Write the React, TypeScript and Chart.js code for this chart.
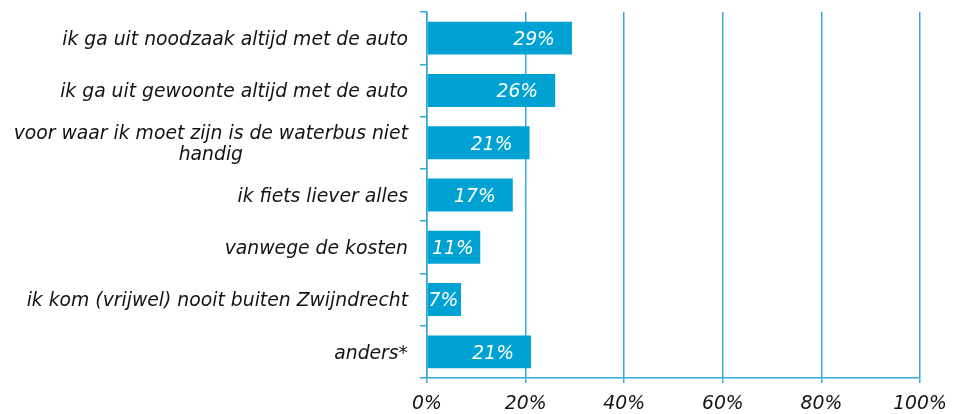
import React, { useEffect, useRef } from "react";
import { Chart, registerables } from "chart.js";

Chart.register(...registerables);

const categories: (string | string[])[] = [
  "ik ga uit noodzaak altijd met de auto",
  "ik ga uit gewoonte altijd met de auto",
  ["voor waar ik moet zijn is de waterbus niet", "handig"],
  "ik fiets liever alles",
  "vanwege de kosten",
  "ik kom (vrijwel) nooit buiten Zwijndrecht",
  "anders*",
];
const values: number[] = [29.4, 26, 20.8, 17.4, 10.8, 6.9, 21.1];
const xTicks: number[] = [0, 20, 40, 60, 80, 100];

const FONT = "DejaVu Sans";
const FONT_SIZE = 18.8;
const BAR = "#00a1d3";
const GRID = "#33a9d9";
const TEXT = "#141414";

const labelPlugin = {
  id: "customLabels",
  afterDatasetsDraw(chart: any) {
    const ctx = chart.ctx;
    const meta = chart.getDatasetMeta(0);
    ctx.save();
    ctx.font = `italic ${FONT_SIZE}px "${FONT}"`;
    ctx.fillStyle = "#ffffff";
    ctx.textBaseline = "middle";
    meta.data.forEach((el: any, i: number) => {
      const txt = Math.round(values[i]) + "%";
      const w = ctx.measureText(txt).width;
      const right = el.x - 17;
      if (right - w < el.base + 1) {
        ctx.textAlign = "center";
        ctx.fillText(txt, (el.base + el.x) / 2 - 1, el.y + 2);
      } else {
        ctx.textAlign = "right";
        ctx.fillText(txt, right, el.y + 2);
      }
    });
    ctx.restore();
  },
  afterDraw(chart: any) {
    const ctx = chart.ctx;
    const yScale = chart.scales.y;
    const rightX = chart.chartArea.left - 19;
    const lh = 21;
    ctx.save();
    ctx.font = `italic ${FONT_SIZE}px "${FONT}"`;
    ctx.fillStyle = TEXT;
    ctx.textBaseline = "middle";
    ctx.textAlign = "center";
    categories.forEach((c, i) => {
      const lines = Array.isArray(c) ? c : [c];
      const widest = Math.max(...lines.map((l) => ctx.measureText(l).width));
      const cx = rightX - widest / 2;
      const cy = yScale.getPixelForValue(i) + 2;
      const start = cy - ((lines.length - 1) * lh) / 2;
      lines.forEach((l, j) => ctx.fillText(l, cx, start + j * lh));
    });
    ctx.restore();
  },
};

export default function App() {
  const ref = useRef<HTMLCanvasElement | null>(null);
  useEffect(() => {
    document.body.style.margin = "0";
    if (!ref.current) return;
    const chart = new Chart(ref.current, {
      type: "bar",
      data: {
        labels: categories.map((c) => (Array.isArray(c) ? c.join(" ") : c)),
        datasets: [
          {
            data: values,
            backgroundColor: BAR,
            borderWidth: 0,
            barPercentage: 0.63,
            categoryPercentage: 1,
          },
        ],
      },
      options: {
        indexAxis: "y",
        animation: false,
        responsive: false,
        maintainAspectRatio: false,
        layout: { padding: { top: 12, right: 44, left: 0, bottom: 0 } },
        plugins: {
          legend: { display: false },
          tooltip: { enabled: false },
        },
        scales: {
          x: {
            min: 0,
            max: 100,
            afterBuildTicks: (scale: any) => {
              scale.ticks = xTicks.map((v) => ({ value: v }));
            },
            afterFit: (scale: any) => {
              scale.height = 36;
            },
            grid: {
              color: GRID,
              lineWidth: 1.5,
              drawTicks: true,
              tickLength: 5,
            },
            border: { display: true, color: GRID, width: 1.5 },
            ticks: {
              padding: 10,
              color: TEXT,
              font: { family: FONT, size: FONT_SIZE, style: "italic" },
              callback: (v: any) => v + "%",
              maxRotation: 0,
            },
          },
          y: {
            afterFit: (scale: any) => {
              scale.width = 427;
            },
            grid: {
              color: GRID,
              lineWidth: 1.5,
              drawOnChartArea: false,
              drawTicks: true,
              tickLength: 7,
              offset: true,
            },
            border: { display: true, color: GRID, width: 1.5 },
            ticks: { display: false },
          },
        },
      },
      plugins: [labelPlugin],
    });
    return () => chart.destroy();
  }, []);
  return (
    <div style={{ width: 964, height: 414 }}>
      <canvas ref={ref} width={964} height={414} style={{ display: "block" }} />
    </div>
  );
}
